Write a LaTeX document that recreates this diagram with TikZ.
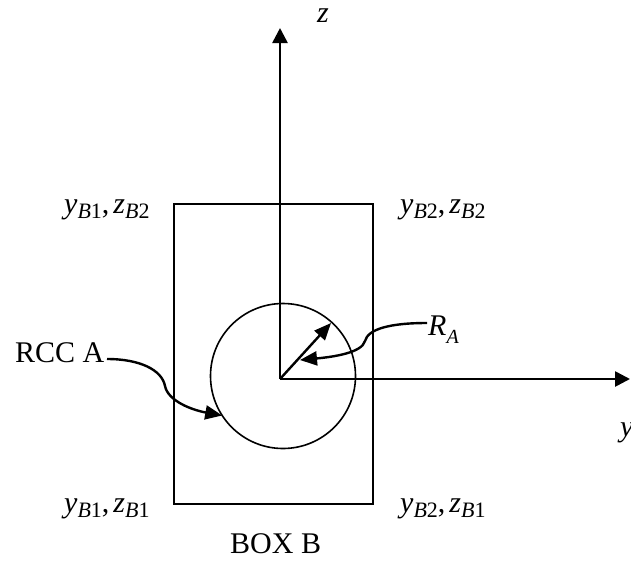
\documentclass[tikz,border=0pt]{standalone}
\usepackage{fontspec}
\setmainfont{Liberation Serif}
\usetikzlibrary{arrows.meta}
\newcommand{\sublbl}[3]{\textit{#1}{\fontsize{22}{22}\selectfont\raisebox{-5pt}{\textit{#2}#3}}}
\begin{document}
\begin{tikzpicture}[x=1pt,y=-1pt,
  axis/.style={line width=2.6pt,-{Triangle[length=15pt,width=15pt]}},
  outline/.style={line width=1.8pt},
  pointer/.style={line width=2.4pt,-{Triangle[length=17pt,width=14pt]}},
  lab/.style={inner sep=0pt,anchor=base west,font=\fontsize{30}{32}\selectfont},
  txt/.style={inner sep=0pt,anchor=base west,font=\fontsize{30}{32}\selectfont}]
\useasboundingbox (0,0) rectangle (631,565);
\clip (0,0) rectangle (631,565);
% box and circle
\node[draw,outline,rectangle,minimum width=199pt,minimum height=300pt,inner sep=0pt,outer sep=0pt] (box) at (273.5,354) {};
\node[draw,line width=1.6pt,circle,minimum size=145pt,inner sep=0pt,outer sep=0pt] (rcc) at (283,376) {};
% axes
\coordinate (O) at (280,379);
\coordinate (zend) at (280,28);
\coordinate (yend) at (630,379);
\draw[axis] (O) -- (zend);
\draw[axis] (O) -- (yend);
% radius arrow
\coordinate (rend) at (331,323);
\draw[pointer] (O) -- (rend);
% labels
\node[lab] (zlab) at (317,22) {\textit{z}};
\node[lab] (ylab) at (620,436) {\textit{y}};
\node[lab] (tl) at (64,213) {\sublbl{y}{B}{1},\kern4pt\sublbl{z}{B}{2}};
\node[lab] (tr) at (400,213) {\sublbl{y}{B}{2},\kern4pt\sublbl{z}{B}{2}};
\node[lab] (bl) at (64,512) {\sublbl{y}{B}{1},\kern4pt\sublbl{z}{B}{1}};
\node[lab] (br) at (400,512) {\sublbl{y}{B}{2},\kern4pt\sublbl{z}{B}{1}};
\node[txt] (boxlab) at (230,553) {BOX B};
\node[txt] (rcclab) at (15,362) {RCC A};
\node[lab] (ralab) at (428,335) {\textit{R}{\fontsize{20}{20}\selectfont\raisebox{-8pt}{\textit{A}}}};
% pointers
\coordinate (rccstart) at (107,359);
\draw[pointer] (rccstart) .. controls (140,359) and (162,370) .. (165,386)
   .. controls (168,401) and (192,410) .. (rcc.213);
\coordinate (rastart) at (427,323);
\coordinate (ratip) at (300,360);
\draw[pointer] (rastart) .. controls (390,323) and (368,329) .. (365,341)
   .. controls (362,353) and (332,357) .. (ratip);
\end{tikzpicture}
\end{document}
